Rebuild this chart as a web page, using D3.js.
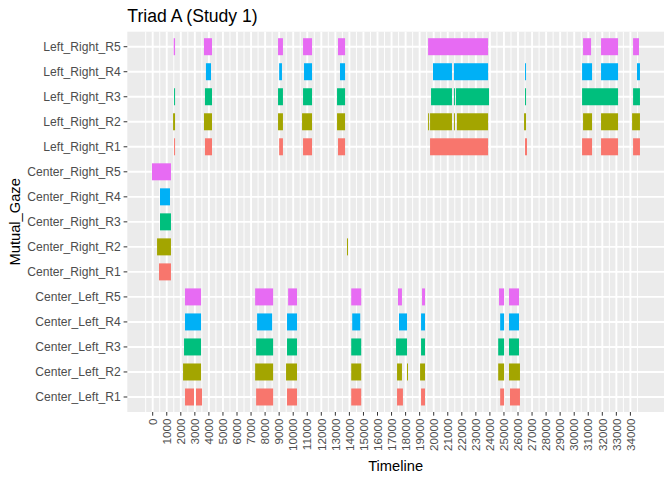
<!DOCTYPE html>
<html>
<head>
<meta charset="utf-8">
<script src="https://cdn.jsdelivr.net/npm/d3@7"></script>
<style>
  body { margin: 0; background: #fff; }
  text { font-family: "Liberation Sans", Arial, sans-serif; }
</style>
</head>
<body>
<script>
// categories, bottom to top
const categories = [
  "Center_Left_R1", "Center_Left_R2", "Center_Left_R3", "Center_Left_R4", "Center_Left_R5",
  "Center_Right_R1", "Center_Right_R2", "Center_Right_R3", "Center_Right_R4", "Center_Right_R5",
  "Left_Right_R1", "Left_Right_R2", "Left_Right_R3", "Left_Right_R4", "Left_Right_R5"
]
const raters = ["R1", "R2", "R3", "R4", "R5"]
const raterColors = ["#F8766D", "#A3A500", "#00BF7D", "#00B0F6", "#E76BF3"]

// gaze intervals [start, end] per rater (R1..R5)
const centerLeft = [
  [[2300, 2940], [3080, 3510], [7360, 8570], [9560, 10270], [14130, 14840], [17390, 17810], [19100, 19380], [24730, 25010], [25430, 26140]],
  [[2160, 3440], [7290, 8570], [9490, 10270], [14130, 14840], [17390, 17740], [18100, 18170], [19030, 19380], [24590, 25010], [25360, 26140]],
  [[2230, 3440], [7360, 8570], [9560, 10270], [14130, 14840], [17320, 18100], [19100, 19380], [24590, 25010], [25360, 26070]],
  [[2300, 3440], [7430, 8500], [9560, 10270], [14200, 14770], [17530, 18100], [19100, 19380], [24730, 25010], [25360, 26070]],
  [[2300, 3440], [7290, 8570], [9640, 10270], [14130, 14840], [17460, 17740], [19170, 19380], [24650, 25010], [25360, 26070]]
]
const centerRight = [
  [[450, 1300]],
  [[310, 1300], [13830, 13900]],
  [[520, 1300]],
  [[520, 1230]],
  [[-50, 1300]]
]
const leftRight = [
  [[1520, 1590], [3720, 4220], [9000, 9270], [10700, 11340], [13190, 13690], [19740, 23870], [26500, 26640], [30560, 31270], [31910, 33120], [34190, 34680]],
  [[1450, 1590], [3650, 4220], [8920, 9270], [10630, 11340], [13120, 13690], [19600, 19670], [19740, 21300], [21440, 21510], [21650, 23870], [26430, 26570], [30630, 31270], [31910, 33120], [34120, 34680]],
  [[1520, 1590], [3720, 4220], [8920, 9270], [10700, 11340], [13120, 13690], [19810, 21300], [21440, 21510], [21580, 23940], [26500, 26570], [30560, 33120], [34190, 34680]],
  [[3790, 4150], [9000, 9200], [10770, 11340], [13330, 13690], [19950, 21300], [21440, 23870], [26500, 26570], [30560, 31270], [31910, 33120], [34470, 34680]],
  [[1495, 1590], [3650, 4220], [8920, 9270], [10700, 11340], [13190, 13690], [19600, 23870], [30630, 31200], [31910, 33120], [34190, 34610]]
]

const xTicks = d3.range(0, 34001, 1000)
const xMinor = d3.range(-1000, 35001, 500).filter(v => v % 1000 !== 0)

const rows = []
;[["Center_Left", centerLeft], ["Center_Right", centerRight], ["Left_Right", leftRight]].forEach(([grp, sets]) => {
  sets.forEach((ivals, i) => {
    ivals.forEach(([s, e]) => rows.push({cat: grp + "_" + raters[i], rater: raters[i], start: s, end: e}))
  })
})

const width = 672
const height = 480
const panel = {left: 127.3, right: 664, top: 31.7, bottom: 412}

const svg = d3.select("body").append("svg").attr("width", width).attr("height", height)

const x = d3.scaleLinear().domain([-1808, 36391]).range([panel.left, panel.right])
const y = d3.scalePoint().domain(categories).range([panel.bottom, panel.top]).padding(0.6)
const color = d3.scaleOrdinal(raters, raterColors)

svg.append("rect")
  .attr("x", panel.left).attr("y", panel.top)
  .attr("width", panel.right - panel.left).attr("height", panel.bottom - panel.top)
  .attr("fill", "#EBEBEB")

const grid = svg.append("g").attr("stroke", "#fff")
grid.selectAll("line.minor").data(xMinor).join("line").attr("class", "minor")
  .attr("x1", d => x(d)).attr("x2", d => x(d))
  .attr("y1", panel.top).attr("y2", panel.bottom).attr("stroke-width", 0.95)
grid.selectAll("line.majorx").data(xTicks).join("line").attr("class", "majorx")
  .attr("x1", d => x(d)).attr("x2", d => x(d))
  .attr("y1", panel.top).attr("y2", panel.bottom).attr("stroke-width", 1.9)
grid.selectAll("line.majory").data(categories).join("line").attr("class", "majory")
  .attr("x1", panel.left).attr("x2", panel.right)
  .attr("y1", d => y(d)).attr("y2", d => y(d)).attr("stroke-width", 1.9)

const barH = 17
svg.append("g").selectAll("rect").data(rows).join("rect")
  .attr("x", d => x(d.start))
  .attr("width", d => Math.max(1, x(d.end) - x(d.start)))
  .attr("y", d => y(d.cat) - barH / 2)
  .attr("height", barH)
  .attr("fill", d => color(d.rater))

// y axis
const yAxis = svg.append("g")
yAxis.selectAll("line").data(categories).join("line")
  .attr("x1", panel.left - 3.7).attr("x2", panel.left)
  .attr("y1", d => y(d)).attr("y2", d => y(d))
  .attr("stroke", "#333").attr("stroke-width", 1)
yAxis.selectAll("text").data(categories).join("text")
  .attr("x", panel.left - 6.6).attr("y", d => y(d))
  .attr("dy", "0.35em").attr("text-anchor", "end")
  .attr("font-size", 12.1).attr("fill", "#4D4D4D")
  .text(d => d)

// x axis
const xAxis = svg.append("g")
xAxis.selectAll("line").data(xTicks).join("line")
  .attr("x1", d => x(d)).attr("x2", d => x(d))
  .attr("y1", panel.bottom).attr("y2", panel.bottom + 3.7)
  .attr("stroke", "#333").attr("stroke-width", 1)
xAxis.selectAll("text").data(xTicks).join("text")
  .attr("transform", d => `translate(${x(d) + 4.2},${panel.bottom + 6.6}) rotate(-90)`)
  .attr("text-anchor", "end")
  .attr("font-size", 11.7).attr("fill", "#4D4D4D")
  .text(d => d)

svg.append("text")
  .attr("x", (panel.left + panel.right) / 2).attr("y", 471)
  .attr("text-anchor", "middle").attr("font-size", 14.7).attr("fill", "#000")
  .text("Timeline")

svg.append("text")
  .attr("transform", `translate(20,${(panel.top + panel.bottom) / 2}) rotate(-90)`)
  .attr("text-anchor", "middle").attr("font-size", 14.7).attr("fill", "#000")
  .text("Mutual_Gaze")

svg.append("text")
  .attr("x", panel.left).attr("y", 22)
  .attr("font-size", 17.6).attr("fill", "#000")
  .text("Triad A (Study 1)")
</script>
</body>
</html>
